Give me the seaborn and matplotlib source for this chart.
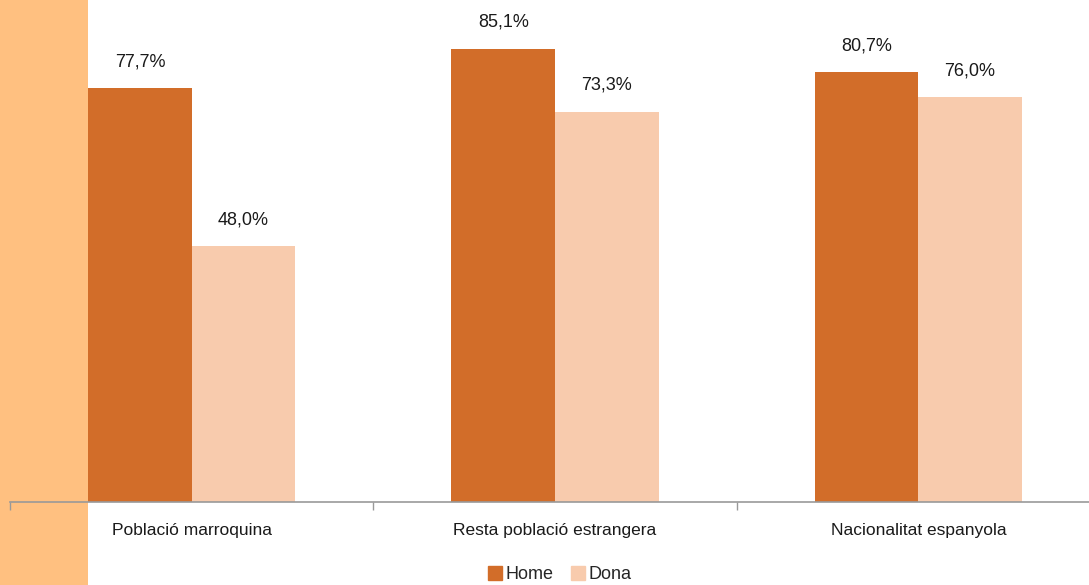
import pandas as pd
import matplotlib.pyplot as plt
import matplotlib.patches as mpatches
import seaborn as sns

# dades
categories = ["Població marroquina", "Resta població estrangera", "Nacionalitat espanyola"]
home = [77.7, 85.1, 80.7]
dona = [48.0, 73.3, 76.0]
series = ["Home", "Dona"]
colors = ["#D26D29", "#F8CBAD"]

df = pd.DataFrame({
    "cat": categories * 2,
    "sexe": ["Home"] * 3 + ["Dona"] * 3,
    "valor": home + dona,
})

sns.set_style("white")
plt.rcParams["font.family"] = ["Liberation Sans", "DejaVu Sans"]

fig = plt.figure(figsize=(10.89, 5.85), dpi=100)
# franja taronja a l'esquerra
fig.patches.append(mpatches.Rectangle((0, 0), 88 / 1089, 1, transform=fig.transFigure,
                                      facecolor="#FFC080", edgecolor="none", zorder=-5))

ax = fig.add_axes([10 / 1089, (585 - 502) / 585, 1090 / 1089, 502 / 585])
ax.patch.set_alpha(0)

sns.barplot(data=df, x="cat", y="valor", hue="sexe", hue_order=series,
            palette=colors, width=0.57, gap=0, saturation=1, linewidth=0,
            ax=ax, legend=False)

for cont in ax.containers:
    ax.bar_label(cont, labels=[f"{v:.1f}".replace(".", ",") + "%" for v in cont.datavalues],
                 padding=13, fontsize=13, color="#1a1a1a")

ax.set_xlim(-0.5, 2.5)
ax.set_ylim(0, 94.3)
ax.set_xlabel("")
ax.set_ylabel("")
ax.set_yticks([])
ax.set_xticks([-0.5, 0.5, 1.5, 2.5], minor=False)
ax.set_xticklabels([])
ax.set_xticks([0, 1, 2], minor=True)
ax.set_xticklabels(categories, minor=True, fontsize=12.5, color="#1a1a1a")
ax.tick_params(axis="x", which="major", length=6, width=1, color="#999999", direction="out", bottom=True)
ax.tick_params(axis="x", which="minor", length=0, pad=15)
for s in ["top", "right", "left"]:
    ax.spines[s].set_visible(False)
ax.spines["bottom"].set_color("#999999")
ax.spines["bottom"].set_linewidth(1.2)
ax.set_zorder(2)

handles = [mpatches.Patch(color=c, label=s) for s, c in zip(series, colors)]
fig.legend(handles=handles, loc="lower center", bbox_to_anchor=(0.514, -0.025), ncol=2,
           frameon=False, fontsize=13, handlelength=0.75, handleheight=0.75,
           handletextpad=0.2, columnspacing=1.0)

plt.savefig("out.png", dpi=100)
plt.close()
